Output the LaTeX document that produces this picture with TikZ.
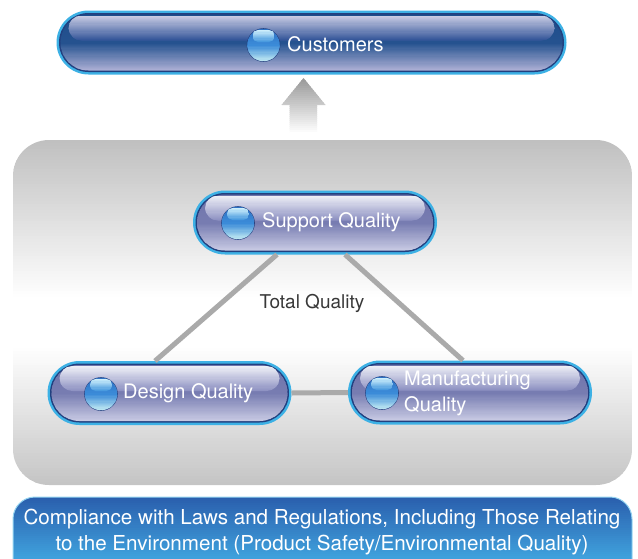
\documentclass[tikz,border=0pt]{standalone}
\usepackage{fontspec}
\setmainfont{TeX Gyre Heros}
\usetikzlibrary{calc}
\definecolor{bcyan}{HTML}{3DB1E5}
\definecolor{bnavy}{HTML}{22407F}
\definecolor{lgray}{HTML}{AAAAAA}
\definecolor{ptop}{HTML}{C0C0C0}
\definecolor{pbot}{HTML}{C5C5C5}
\definecolor{ctop}{HTML}{1C4C8B}
\definecolor{cmid}{HTML}{25528F}
\definecolor{cbot}{HTML}{A9ADD3}
\definecolor{chlt}{HTML}{C9CCE4}
\definecolor{chlb}{HTML}{36579A}
\definecolor{qtop}{HTML}{6E73AA}
\definecolor{qmid}{HTML}{777CB1}
\definecolor{qbot}{HTML}{C6C8E2}
\definecolor{qhlt}{HTML}{EEEFF6}
\definecolor{qhlb}{HTML}{8F93C3}
\definecolor{otop}{HTML}{2C6EC2}
\definecolor{omid}{HTML}{3B8BD8}
\definecolor{obot}{HTML}{C4ECF3}
\definecolor{ohlt}{HTML}{CDEEFB}
\definecolor{ohlb}{HTML}{4A9BDF}
\definecolor{lawtop}{HTML}{2A5FAD}
\definecolor{lawbot}{HTML}{3FA0DC}
% vertical gradient by strips: x1 y1 x2 y2 topcolour bottomcolour steps
\newcommand\vgrad[7]{%
  \pgfmathsetmacro\vgh{(#4-(#2))/#7}%
  \pgfmathtruncatemacro\vgn{#7-1}%
  \foreach \i in {0,...,\vgn}{%
    \pgfmathsetmacro\vgp{100*\i/\vgn}%
    \fill[#6!\vgp!#5] (#1,{#2+\i*\vgh}) rectangle (#3,{#2+(\i+1)*\vgh+0.5});%
  }%
}
% glossy layers: cx cy w bodytop bodymid bodybottom hltop hlbottom
\newcommand\gloss[8]{%
  \pgfmathsetmacro\gxa{#1-#3/2}%
  \pgfmathsetmacro\gxb{#1+#3/2}%
  \pgfmathsetmacro\gya{#2-32}%
  \pgfmathsetmacro\gyb{#2+32}%
  \fill[bnavy, rounded corners=29.5pt] (\gxa+2.5,\gya+2.5) rectangle (\gxb-2.5,\gyb-2.5);
  \begin{scope}
    \clip[rounded corners=28pt] (\gxa+4,\gya+4) rectangle (\gxb-4,\gyb-4);
    \vgrad{\gxa}{\gya}{\gxb}{#2}{#4}{#5}{24}
    \vgrad{\gxa}{#2}{\gxb}{\gyb-4}{#5}{#6}{24}
  \end{scope}
  \begin{scope}
    \clip[rounded corners=13pt] (\gxa+12,\gya+5) rectangle (\gxb-12,#2-2);
    \vgrad{\gxa}{\gya+5}{\gxb}{#2-2}{#7}{#8}{22}
  \end{scope}
}
% orb layers: cx cy
\newcommand\orbfill[2]{%
  \begin{scope}
    \clip (#1,#2) circle[radius=16.2];
    \vgrad{#1-17}{#2-17}{#1+17}{#2}{otop}{omid}{12}
    \vgrad{#1-17}{#2}{#1+17}{#2+17}{omid}{obot}{14}
  \end{scope}
  \begin{scope}
    \clip[rounded corners=5.5pt] (#1-11,#2-15) rectangle (#1+11,#2-3);
    \vgrad{#1-11}{#2-15}{#1+11}{#2-3}{ohlt}{ohlb}{10}
  \end{scope}
}
\begin{document}
\begin{tikzpicture}[x=1pt,y=-1pt,
  pill/.style={fill=bcyan, inner sep=0pt, outer sep=0pt, rounded corners=32pt, minimum height=64pt},
  orb/.style={circle, inner sep=0pt, outer sep=0pt, minimum size=33pt, draw=bnavy, line width=0.6pt},
  lbl/.style={text=white, font=\fontsize{20}{26}\selectfont, inner sep=0pt, anchor=west, align=left},
  conn/.style={draw=lgray, line width=5pt},
  panel/.style={inner sep=0pt, outer sep=0pt, minimum width=619pt, minimum height=345pt},
  lawbox/.style={inner sep=0pt, outer sep=0pt, minimum width=619pt, minimum height=90pt},
]
\useasboundingbox (0,0) rectangle (638,558);
\clip (0,0) rectangle (638,558);

% grey panel
\node[panel] (panel) at (322.5,312.5) {};
\begin{scope}
  \clip[rounded corners=36pt] (13,140) rectangle (632,485);
  \vgrad{13}{140}{632}{300}{ptop}{white}{55}
  \fill[white] (13,300) rectangle (632,345);
  \vgrad{13}{345}{632}{485}{white}{pbot}{48}
\end{scope}

% arrow
\begin{scope}
  \clip (281.5,105) -- (303.5,78) -- (325.5,105) -- (317,105) -- (317,134) -- (289.5,134) -- (289.5,105) -- cycle;
  \vgrad{280}{78}{327}{134}{black!40}{white}{28}
\end{scope}

% customers
\node[pill, minimum width=510pt] (cust) at (311.5,42.5) {};
\gloss{311.5}{42.5}{510}{ctop}{cmid}{cbot}{chlt}{chlb}
\node[orb] (o1) at (263.5,45) {};
\orbfill{263.5}{45}
\node[lbl] (custt) at (287,44) {Customers};

% quality nodes
\node[pill, minimum width=244pt] (sup) at (315,222.5) {};
\node[pill, minimum width=244pt] (des) at (169.5,393) {};
\node[pill, minimum width=244pt] (mfg) at (470,392.5) {};

% connectors
\draw[conn] ([xshift=-38pt]sup.south) -- ([xshift=-14.5pt]des.north);
\draw[conn] ([xshift=30pt]sup.south) -- ([xshift=-7pt]mfg.north);
\draw[conn] (des.east) -- (mfg.west);

\gloss{315}{222.5}{244}{qtop}{qmid}{qbot}{qhlt}{qhlb}
\gloss{169.5}{393}{244}{qtop}{qmid}{qbot}{qhlt}{qhlb}
\gloss{470}{392.5}{244}{qtop}{qmid}{qbot}{qhlt}{qhlb}

\node[orb] (o2) at (238,223) {};
\orbfill{238}{223}
\node[orb] (o3) at (101,394) {};
\orbfill{101}{394}
\node[orb] (o4) at (382,393) {};
\orbfill{382}{393}

\node[lbl] (supt) at (262,222.5) {Support Quality};
\node[lbl] (dest) at (123,393) {Design Quality};
\node[lbl] (mfgt) at (404,393) {Manufacturing\\Quality};

\node[text=black!78, font=\fontsize{19}{23}\selectfont, inner sep=0pt] (total) at (312,303) {Total Quality};

% law box
\node[lawbox] (law) at (322.5,542) {};
\begin{scope}
  \clip[rounded corners=22pt] (13,497) rectangle (632,587);
  \vgrad{13}{497}{632}{558}{lawtop}{lawbot}{30}
\end{scope}
\draw[bcyan!55!white, line width=1pt, rounded corners=22pt] (13,597) -- (13,497) -- (632,497) -- (632,597);
\node[text=white, font=\fontsize{20.6}{26}\selectfont, align=center, inner sep=0pt] (lawt) at (322,532) {Compliance with Laws and Regulations, Including Those Relating\\to the Environment (Product Safety/Environmental Quality)};
\end{tikzpicture}
\end{document}
